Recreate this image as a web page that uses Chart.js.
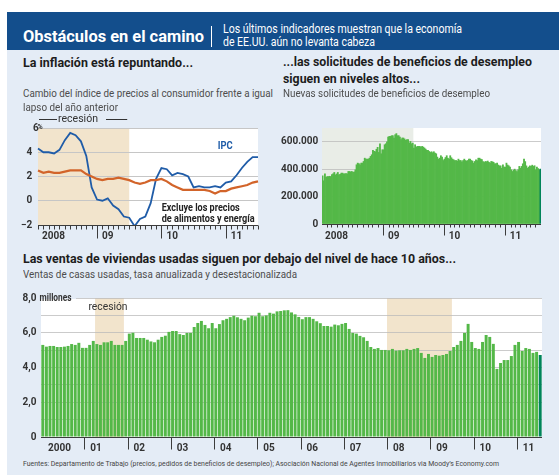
<!DOCTYPE html>
<html lang="es">
<head>
<meta charset="utf-8">
<title>Obstáculos en el camino</title>
<script src="https://cdn.jsdelivr.net/npm/chart.js@4.4.1/dist/chart.umd.min.js"></script>
<style>
  html, body { margin: 0; padding: 0; }
  body { width: 559px; height: 475px; position: relative; overflow: hidden; background: #fff; font-family: Roboto, "Open Sans", sans-serif; }
  .box { position: absolute; }
  #panel { left: 7px; top: 12px; width: 552px; height: 463px; background: #e4ecf6; }
  #banner { left: 7px; top: 12px; width: 552px; height: 38px; background: #134e8c; }
  #sep { left: 211px; top: 26px; width: 1px; height: 21px; background: #fff; }
  .wrap { position: absolute; }
  .t { position: absolute; white-space: nowrap; line-height: 1; transform-origin: 0 0; }
  .ti { color: #fff; font-weight: bold; font-size: 17px; }
  .st { color: #fff; font-size: 12px; }
  .h { font-weight: bold; color: #1d1d1d; font-size: 13px; }
  .s { color: #4d4d4d; font-size: 11px; }
  .src { color: #444; font-size: 8px; }
</style>
</head>
<body>
<div class="box" id="panel"></div>
<div class="box" id="banner"></div>
<div class="box" id="sep"></div>

<div class="wrap" style="left:7px;top:110px;width:265px;height:140px"><canvas id="cpi"></canvas></div>
<div class="wrap" style="left:275px;top:110px;width:284px;height:140px"><canvas id="claims"></canvas></div>
<div class="wrap" style="left:7px;top:285px;width:552px;height:170px"><canvas id="sales"></canvas></div>

<div class="t ti" style="left:23px;top:28px" data-w="181">Obstáculos en el camino</div>
<div class="t st" style="left:223px;top:22.5px" data-w="239">Los últimos indicadores muestran que la economía</div>
<div class="t st" style="left:223px;top:35.5px" data-w="152">de EE.UU. aún no levanta cabeza</div>

<div class="t h" style="left:23px;top:55.6px" data-w="170">La inflación está repuntando...</div>
<div class="t s" style="left:23px;top:87.5px" data-w="250">Cambio del índice de precios al consumidor frente a igual</div>
<div class="t s" style="left:23px;top:101.5px" data-w="95">lapso del año anterior</div>

<div class="t h" style="left:283px;top:55.4px" data-w="249">...las solicitudes de beneficios de desempleo</div>
<div class="t h" style="left:283px;top:72.1px" data-w="137">siguen en niveles altos...</div>
<div class="t s" style="left:283px;top:87.5px" data-w="207">Nuevas solicitudes de beneficios de desempleo</div>

<div class="t h" style="left:23px;top:252.1px" data-w="433">Las ventas de viviendas usadas siguen por debajo del nivel de hace 10 años...</div>
<div class="t s" style="left:23px;top:269.2px" data-w="274">Ventas de casas usadas, tasa anualizada y desestacionalizada</div>

<div class="t src" style="left:23px;top:459.8px" data-w="476">Fuentes: Departamento de Trabajo (precios, pedidos de beneficios de desempleo); Asociación Nacional de Agentes Inmobiliarios via Moody’s Economy.com</div>

<script>
// IPC, variación interanual (%), ene 2008 - jun 2011
const cpiAll = [4.3, 4.0, 4.0, 3.9, 4.2, 5.0, 5.6, 5.4, 4.9, 3.7, 1.1, 0.1,
  0.0, 0.2, -0.4, -0.7, -1.3, -1.4, -2.1, -1.5, -1.3, -0.2, 1.8, 2.7,
  2.6, 2.1, 2.3, 2.2, 2.0, 1.1, 1.2, 1.1, 1.1, 1.2, 1.1, 1.5,
  1.6, 2.1, 2.7, 3.2, 3.6, 3.6];
// sin alimentos ni energía
const cpiCore = [2.5, 2.3, 2.4, 2.3, 2.3, 2.4, 2.5, 2.5, 2.5, 2.2, 2.0, 1.8,
  1.7, 1.8, 1.8, 1.9, 1.8, 1.7, 1.5, 1.4, 1.5, 1.7, 1.7, 1.8,
  1.6, 1.3, 1.1, 0.9, 0.9, 0.9, 0.9, 0.9, 0.8, 0.6, 0.8, 0.8,
  1.0, 1.1, 1.2, 1.3, 1.5, 1.6];
const cpiYearLabels = ['2008', '09', '10', '11'];

// solicitudes semanales (miles), semana al 5 ene 2008 - 30 jul 2011
const claims = [
  351, 315, 366, 341,  346, 346, 348, 346,  360, 366, 376, 358, 365,  376, 358, 362, 371,
  371, 366, 366, 368, 366,  383, 383, 380, 383,  376, 380, 395, 432,  444, 440, 432, 444, 444,
  456, 480, 473, 473,  473, 480, 493, 505,  537, 530, 527, 545, 559,  522, 585, 512, 541,
  541, 578, 585, 600, 634,  639, 639, 644, 644,  627, 651, 659, 644,  644, 634, 615, 627,
  627, 620, 610, 615, 615,  590, 602, 585, 590,  554, 578, 561, 566,  566, 566, 561, 566, 561,
  554, 546, 537, 537,  529, 522, 527, 520, 527,  517, 512, 488, 473,  480, 498, 488, 463,
  473, 485, 498, 480, 473,  498, 483, 473, 468,  463, 463, 459, 473,  463, 463, 454, 463,
  473, 463, 459, 463, 473,  473, 463, 459, 444,  456, 468, 462, 480, 480,  473, 470, 456, 449,
  456, 454, 459, 450,  444, 456, 454, 450, 440,  439, 444, 430, 424,  424, 407, 432, 415,
  415, 444, 430, 424, 415,  395, 383, 392, 400,  390, 383, 395, 420,  407, 420, 439, 473, 455,
  424, 407, 415, 424,  420, 429, 420, 425,  395, 415, 405, 395, 400];
const claimsYearLabels = ['2008', '09', '10', '11'];

// ventas de casas usadas (millones, tasa anual), ene 2000 - jul 2011
const homeSales = [
  5.30, 5.20, 5.24, 5.24, 5.18, 5.18, 5.20, 5.24, 5.35, 5.30, 5.42, 5.13,
  5.13, 5.30, 5.53, 5.35, 5.30, 5.45, 5.45, 5.53, 5.30, 5.30, 5.30, 5.53,
  5.95, 6.00, 5.70, 5.70, 5.70, 5.60, 5.50, 5.45, 5.60, 5.76, 5.83, 6.05,
  6.10, 6.10, 5.92, 5.87, 5.99, 5.99, 6.33, 6.56, 6.68, 6.45, 6.26, 6.56,
  6.26, 6.50, 6.72, 6.80, 6.90, 6.98, 6.89, 6.80, 6.72, 6.87, 6.98, 6.95,
  7.15, 6.95, 7.00, 7.15, 7.10, 7.23, 7.25, 7.29, 7.30, 7.17, 7.06, 6.91,
  6.78, 6.90, 6.90, 6.80, 6.66, 6.55, 6.39, 6.39, 6.35, 6.47, 6.43, 6.51,
  6.56, 6.22, 5.99, 5.95, 5.82, 5.74, 5.53, 5.18, 5.07, 5.12, 5.01, 5.01,
  4.99, 5.07, 4.97, 4.99, 4.99, 5.07, 5.01, 5.07, 5.12, 4.84, 4.55, 4.78,
  4.61, 4.72, 4.68, 4.72, 4.78, 4.95, 5.18, 5.30, 5.53, 5.99, 6.51, 5.47,
  5.12, 5.07, 5.47, 5.87, 5.76, 5.36, 3.92, 4.26, 4.43, 4.43, 4.66, 5.30,
  5.47, 4.95, 5.12, 5.07, 4.84, 4.90, 4.72];
const salesYearLabels = ['2000', '01', '02', '03', '04', '05', '06', '07', '08', '09', '10', '11'];

// recesiones (índices de categoría, inclusive)
const cpiRecession = [[0, 17]];
const claimsRecession = [[0, 77]];
const salesRecessions = [[15, 22], [96, 113]];

const pad2 = n => String(n).padStart(2, '0');
function months(y0, n) {
  const out = [];
  for (let i = 0; i < n; i++) out.push((y0 + Math.floor(i / 12)) + '-' + pad2(i % 12 + 1));
  return out;
}
function weeks(n) {
  const out = [], d = new Date(2008, 0, 5);
  for (let i = 0; i < n; i++) {
    out.push(d.getFullYear() + '-' + pad2(d.getMonth() + 1) + '-' + pad2(d.getDate()));
    d.setDate(d.getDate() + 7);
  }
  return out;
}
const cpiMonths = months(2008, cpiAll.length);
const claimWeeks = weeks(claims.length);
const saleMonths = months(2000, homeSales.length);

const BG = '#e4ecf6', GREEN = '#54b848', DARK_GREEN = '#00845a', TAN = '#f2e4cc';
const FONT = 'Roboto, sans-serif';

Chart.defaults.font.family = FONT;
Chart.defaults.animation = false;
Chart.defaults.events = [];
Chart.defaults.plugins.legend.display = false;
Chart.defaults.plugins.tooltip.enabled = false;

function fitText(ctx, str, x, y, w) {
  const m = ctx.measureText(str).width;
  ctx.save();
  ctx.translate(x, y);
  if (w) ctx.scale(w / m, 1);
  ctx.fillText(str, 0, 0);
  ctx.restore();
}

function bandEdge(x, i, side) {
  const p = x.getPixelForValue(i);
  if (!x.options.offset) return p;
  const half = (x.getPixelForValue(1) - x.getPixelForValue(0)) / 2;
  return side === 'start' ? p - half : p + half;
}

// fondo blanco del área + sombreado de recesión
const recessionPlugin = {
  id: 'recession',
  beforeDraw(chart, args, o) {
    const { ctx, chartArea: a, scales: { x } } = chart;
    ctx.save();
    ctx.fillStyle = '#fff';
    ctx.fillRect(a.left, a.top, a.right - a.left, a.bottom - a.top);
    ctx.fillStyle = o.color;
    o.bands.forEach(([i0, i1]) => {
      const x0 = bandEdge(x, i0, 'start'), x1 = bandEdge(x, i1, 'end');
      ctx.fillRect(x0, a.top, x1 - x0, a.bottom - a.top);
    });
    ctx.restore();
  },
  afterDraw(chart, args, o) {
    if (!o.label) return;
    const { ctx, chartArea: a, scales: { x } } = chart;
    const [i0, i1] = o.bands[0];
    const x0 = bandEdge(x, i0, 'start'), x1 = bandEdge(x, i1, 'end');
    ctx.save();
    ctx.fillStyle = '#333';
    ctx.font = '11px ' + FONT;
    ctx.textBaseline = 'middle';
    if (o.label === 'above') {
      const y = a.top - 9, tx = x0 + 20, tw = 40;
      ctx.textAlign = 'left';
      fitText(ctx, 'recesión', tx, y, tw);
      ctx.strokeStyle = '#333';
      ctx.lineWidth = 1;
      ctx.beginPath();
      ctx.moveTo(x0 + 1, Math.round(y) + 0.5); ctx.lineTo(tx - 1, Math.round(y) + 0.5);
      ctx.moveTo(tx + tw + 8, Math.round(y) + 0.5); ctx.lineTo(x1 - 2, Math.round(y) + 0.5);
      ctx.stroke();
    } else {
      ctx.textAlign = 'left';
      fitText(ctx, 'recesión', (x0 + x1) / 2 - 21, a.top + 9, 39);
    }
    ctx.restore();
  }
};

// eje temporal: línea base, marcas mensuales y anuales, rótulos de año
const timeAxisPlugin = {
  id: 'timeAxis',
  afterDraw(chart, args, o) {
    const { ctx, chartArea: a, scales: { x } } = chart;
    const cats = chart.data.labels;
    const px = i => x.getPixelForValue(i);
    const at = i => o.tickAt === 'prev' ? px(i - 1) : (px(i - 1) + px(i)) / 2;
    const yb = Math.round(a.bottom) + 0.5;
    const tick = (xp, len) => {
      const xx = Math.round(xp) + 0.5;
      ctx.moveTo(xx, yb); ctx.lineTo(xx, yb + len);
    };
    ctx.save();
    ctx.strokeStyle = '#3c3c3c';
    ctx.lineWidth = 1;
    ctx.beginPath();
    ctx.moveTo(a.left, yb); ctx.lineTo(a.right, yb);
    const years = [];
    for (let i = 0; i < cats.length; i++) {
      if (o.minor === 'point') tick(px(i), o.minorLen);
      if (i === 0) continue;
      const [y0, m0] = cats[i - 1].split('-'), [y1, m1] = cats[i].split('-');
      if (y0 !== y1) { tick(at(i), o.majorLen); years.push(at(i)); }
      else if (o.minor === 'month' && m0 !== m1) tick(at(i), o.minorLen);
    }
    ctx.stroke();
    ctx.fillStyle = '#333';
    ctx.font = 'bold 10px ' + FONT;
    ctx.textAlign = 'left';
    ctx.textBaseline = 'middle';
    ctx.fillText(o.labels[0], a.left + o.firstDx, a.bottom + o.labelDy);
    years.forEach((xp, k) => {
      if (o.labels[k + 1]) ctx.fillText(o.labels[k + 1], xp + o.labelDx, a.bottom + o.labelDy);
    });
    ctx.restore();
  }
};

// rótulos del gráfico de inflación
const cpiNotes = {
  id: 'cpiNotes',
  afterDraw(chart) {
    const { ctx, chartArea: a, scales: { x, y } } = chart;
    ctx.save();
    ctx.textBaseline = 'middle';
    ctx.textAlign = 'left';
    ctx.fillStyle = '#333';
    ctx.font = 'bold 10px ' + FONT;
    ctx.fillText('6', a.left - 4.9, y.getPixelForValue(6));
    ctx.font = 'bold 7px ' + FONT;
    ctx.fillText('%', a.left - 0.6, y.getPixelForValue(6) - 0.5);
    ctx.font = 'bold 11px ' + FONT;
    ctx.fillStyle = '#1f5ca8';
    fitText(ctx, 'IPC', x.getPixelForValue(33.5), y.getPixelForValue(4.46), 15);
    ctx.fillStyle = '#222';
    ctx.font = 'bold 10.5px ' + FONT;
    fitText(ctx, 'Excluye los precios', x.getPixelForValue(23.05), y.getPixelForValue(-0.62), 78);
    fitText(ctx, 'de alimentos y energía', x.getPixelForValue(23.05), y.getPixelForValue(-1.5), 93);
    ctx.restore();
  }
};

// "millones" junto al 8,0
const millionsNote = {
  id: 'millionsNote',
  afterDraw(chart) {
    const { ctx, chartArea: a, scales: { y } } = chart;
    const yy = y.getPixelForValue(8);
    ctx.save();
    ctx.fillStyle = BG;
    ctx.fillRect(a.left - 1, yy - 5, 36, 6);
    ctx.fillStyle = '#333';
    ctx.font = 'bold 10px ' + FONT;
    ctx.textAlign = 'left';
    ctx.textBaseline = 'middle';
    fitText(ctx, 'millones', a.left - 1.5, yy, 32);
    ctx.restore();
  }
};

new Chart(document.getElementById('cpi'), {
  type: 'line',
  data: {
    labels: cpiMonths,
    datasets: [
      { data: cpiCore, borderColor: '#d2642a', borderWidth: 2.2, pointRadius: 0, tension: 0 },
      { data: cpiAll, borderColor: '#1f5ca8', borderWidth: 1.8, pointRadius: 0, tension: 0 }
    ]
  },
  options: {
    responsive: true,
    maintainAspectRatio: false,
    layout: { padding: { top: 18, right: 14, bottom: 25, left: 0 } },
    scales: {
      x: { display: false },
      y: {
        min: -2, max: 6,
        afterFit: s => { s.width = 31; },
        ticks: {
          stepSize: 2, padding: 5.7, color: '#333', font: { size: 10, weight: 'bold' },
          callback: v => v === 6 ? '' : (v < 0 ? '−' + (-v) : String(v))
        },
        grid: { drawTicks: false, color: c => c.tick.value === -2 ? 'rgba(0,0,0,0)' : '#c6c6c6' },
        border: { display: false }
      }
    },
    plugins: {
      recession: { bands: cpiRecession, color: TAN, label: 'above' },
      timeAxis: { labels: cpiYearLabels, tickAt: 'prev', minor: 'point', minorLen: 4, majorLen: 13, firstDx: 4, labelDx: 5, labelDy: 11.5 }
    }
  },
  plugins: [recessionPlugin, timeAxisPlugin, cpiNotes]
});

new Chart(document.getElementById('claims'), {
  type: 'bar',
  data: {
    labels: claimWeeks,
    datasets: [{
      data: claims,
      backgroundColor: c => c.dataIndex === claims.length - 1 ? DARK_GREEN : GREEN,
      borderWidth: 0, barPercentage: 1, categoryPercentage: 1
    }]
  },
  options: {
    responsive: true,
    maintainAspectRatio: false,
    layout: { padding: { top: 18, right: 18, bottom: 26, left: 0 } },
    scales: {
      x: { display: false },
      y: {
        min: 0, max: 700, z: 1,
        afterFit: s => { s.width = 47; },
        ticks: {
          stepSize: 100, padding: 3.7, color: '#333', font: { size: 10, weight: 'bold' },
          callback: v => v === 0 ? '0' : (v % 200 === 0 ? v + '.000' : '')
        },
        grid: { drawTicks: false, color: c => c.tick.value === 0 ? 'rgba(0,0,0,0)' : 'rgba(185,185,185,0.75)' },
        border: { display: false }
      }
    },
    plugins: {
      recession: { bands: claimsRecession, color: '#e9ede7' },
      timeAxis: { labels: claimsYearLabels, tickAt: 'mid', minor: 'month', minorLen: 3, majorLen: 11, firstDx: 3, labelDx: 5, labelDy: 12.5 }
    }
  },
  plugins: [recessionPlugin, timeAxisPlugin]
});

new Chart(document.getElementById('sales'), {
  type: 'bar',
  data: {
    labels: saleMonths,
    datasets: [{
      data: homeSales,
      backgroundColor: c => c.dataIndex === homeSales.length - 1 ? DARK_GREEN : GREEN,
      borderWidth: 0, barPercentage: 0.82, categoryPercentage: 1
    }]
  },
  options: {
    responsive: true,
    maintainAspectRatio: false,
    layout: { padding: { top: 13, right: 17, bottom: 18, left: 0 } },
    scales: {
      x: { display: false },
      y: {
        min: 0, max: 8, z: 1,
        afterFit: s => { s.width = 34; },
        ticks: {
          stepSize: 1, padding: 4.5, color: '#333', font: { size: 10, weight: 'bold' },
          callback: v => v === 0 ? '0' : (v % 2 === 0 ? v + ',0' : '')
        },
        grid: { drawTicks: false, color: c => c.tick.value === 0 ? 'rgba(0,0,0,0)' : 'rgba(185,185,185,0.75)' },
        border: { display: false }
      }
    },
    plugins: {
      recession: { bands: salesRecessions, color: TAN, label: 'inside' },
      timeAxis: { labels: salesYearLabels, tickAt: 'mid', minor: 'none', majorLen: 12, firstDx: 7, labelDx: 6, labelDy: 11 }
    }
  },
  plugins: [recessionPlugin, timeAxisPlugin, millionsNote]
});

// ajustar el ancho de los textos al del original
document.querySelectorAll('.t[data-w]').forEach(el => {
  const w = el.getBoundingClientRect().width;
  el.style.transform = 'scaleX(' + (el.dataset.w / w) + ')';
});
</script>
</body>
</html>
